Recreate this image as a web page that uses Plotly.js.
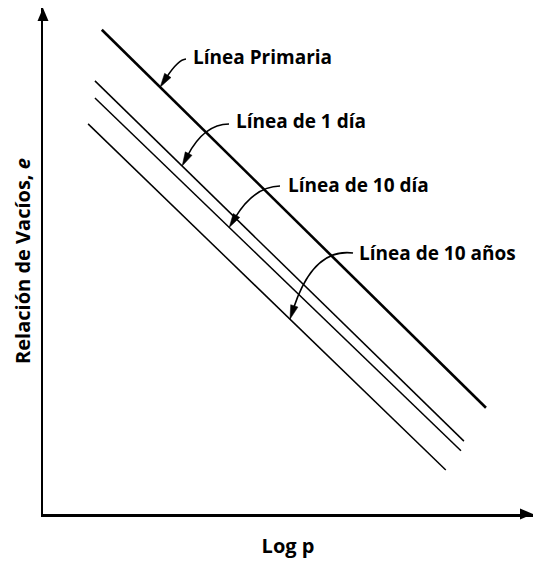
<!DOCTYPE html>
<html>
<head>
<meta charset="utf-8">
<script src="https://cdn.plot.ly/plotly-3.0.1.min.js"></script>
<style>html,body{margin:0;padding:0;background:#fff;}#chart{width:543px;height:561px;}</style>
</head>
<body>
<div id="chart"></div>
<script>
// ---- data (schematic log p vs void ratio e) ----
const lineNames = ["Línea Primaria", "Línea de 1 día", "Línea de 10 día", "Línea de 10 años"];
const logpStart = [1.20, 1.06, 1.06, 0.92];
const logpEnd   = [9.04, 8.59, 8.53, 8.22];
const eStart    = [9.57, 8.56, 8.22, 7.71];
const eEnd      = [2.10, 1.44, 1.25, 0.87];
const labelTipLogp = [2.39, 2.84, 3.80, 5.04];
const xTitle = "Log p";
const yTitle = "Relación de Vacíos, <i>e</i>";

// ---- layout constants ----
const W = 543, H = 561;
const M = {l: 43, r: 10, t: 8, b: 47};
const XR = [0, 10], YR = [0, 10];
const pw = W - M.l - M.r, ph = H - M.t - M.b;
const toPx = (x, y) => [M.l + (x - XR[0]) / (XR[1] - XR[0]) * pw, M.t + ph - (y - YR[0]) / (YR[1] - YR[0]) * ph];
const toData = (px, py) => [XR[0] + (px - M.l) / pw * (XR[1] - XR[0]), YR[0] + (M.t + ph - py) / ph * (YR[1] - YR[0])];

const widths = [2.6, 1.5, 1.5, 1.5];
const traces = lineNames.map((n, i) => ({
  x: [logpStart[i], logpEnd[i]],
  y: [eStart[i], eEnd[i]],
  mode: "lines", type: "scatter", name: n, hoverinfo: "skip",
  line: {color: "#000", width: widths[i]}
}));

// label placement (pixels): text anchor, curve tail, control point
const labelPos = [
  {tx: 191, ty: 57,  sx: 186, sy: 59,  cx: 176, cy: 63},
  {tx: 234, ty: 121, sx: 229, sy: 124, cx: 202, cy: 128},
  {tx: 286, ty: 185, sx: 280, sy: 186, cx: 252, cy: 190},
  {tx: 357, ty: 253, sx: 353, sy: 253, cx: 312, cy: 252}
];

const shapes = [];
const annotations = [];
const font = {family: "'Open Sans', sans-serif", size: 19, color: "#000", weight: 700};
const titleFont = {family: "'Open Sans', sans-serif", size: 20, color: "#000", weight: 700};

lineNames.forEach((n, i) => {
  const t = (labelTipLogp[i] - logpStart[i]) / (logpEnd[i] - logpStart[i]);
  const tipE = eStart[i] + t * (eEnd[i] - eStart[i]);
  const [Tx, Ty] = toPx(labelTipLogp[i], tipE);
  const p = labelPos[i];
  let dx = Tx - p.cx, dy = Ty - p.cy;
  const len = Math.hypot(dx, dy); dx /= len; dy /= len;
  const hl = 14, hw = 3.8;
  const bx = Tx - dx * hl, by = Ty - dy * hl;
  const d = (px, py) => toData(px, py).join(",");
  shapes.push({type: "path", xref: "x", yref: "y",
    path: `M${d(p.sx, p.sy)} Q${d(p.cx + (bx - Tx) * 0.3, p.cy + (by - Ty) * 0.3)} ${d(bx + dx * 2, by + dy * 2)}`,
    line: {color: "#000", width: 1.6}});
  shapes.push({type: "path", xref: "x", yref: "y",
    path: `M${d(Tx, Ty)} L${d(bx - dy * hw, by + dx * hw)} L${d(bx + dy * hw, by - dx * hw)} Z`,
    fillcolor: "#000", line: {color: "#000", width: 0.5}});
  const [ax, ay] = toData(p.tx, p.ty);
  annotations.push({x: ax, y: ay, xref: "x", yref: "y", text: n, showarrow: false,
    xanchor: "left", yanchor: "middle", font: font});
});

// axis arrowheads (paper coords)
const ppx = px => (px - M.l) / pw, ppy = py => (M.t + ph - py) / ph;
const ahL = 13, ahW = 5.5;
const xEnd = W - M.r, yAx = M.t + ph;
shapes.push({type: "path", xref: "paper", yref: "paper",
  path: `M${ppx(xEnd)},${ppy(yAx)} L${ppx(xEnd - ahL)},${ppy(yAx - ahW)} L${ppx(xEnd - ahL)},${ppy(yAx + ahW)} Z`,
  fillcolor: "#000", line: {width: 0}});
shapes.push({type: "path", xref: "paper", yref: "paper",
  path: `M${ppx(M.l)},${ppy(M.t)} L${ppx(M.l - ahW)},${ppy(M.t + ahL)} L${ppx(M.l + ahW)},${ppy(M.t + ahL)} Z`,
  fillcolor: "#000", line: {width: 0}});

const layout = {
  width: W, height: H,
  margin: M,
  paper_bgcolor: "#fff", plot_bgcolor: "#fff",
  showlegend: false,
  font: font,
  xaxis: {range: XR, showgrid: false, zeroline: false, showticklabels: false, ticks: "",
    showline: true, linecolor: "#000", linewidth: 2.5,
    title: {text: xTitle, font: titleFont, standoff: 24}},
  yaxis: {range: YR, showgrid: false, zeroline: false, showticklabels: false, ticks: "",
    showline: true, linecolor: "#000", linewidth: 2.5,
    title: {text: yTitle, font: titleFont, standoff: 5}},
  shapes: shapes,
  annotations: annotations
};

Plotly.newPlot("chart", traces, layout, {displayModeBar: false, staticPlot: true});
</script>
</body>
</html>
